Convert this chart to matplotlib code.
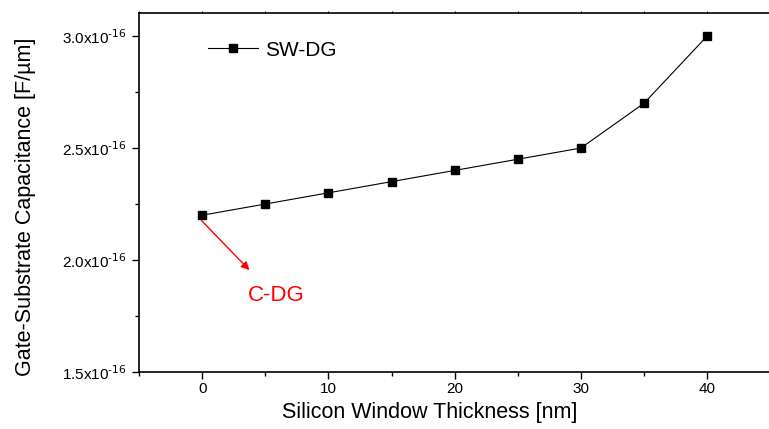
import numpy as np
import matplotlib.pyplot as plt
from matplotlib.ticker import FixedLocator, FuncFormatter

plt.rcParams['font.family'] = ['Liberation Sans', 'DejaVu Sans']

# data
thickness = [0, 5, 10, 15, 20, 25, 30, 35, 40]
capacitance = [2.2e-16, 2.25e-16, 2.3e-16, 2.35e-16, 2.4e-16, 2.45e-16, 2.5e-16, 2.7e-16, 3.0e-16]
x_ticks = [0, 10, 20, 30, 40]
y_ticks = [1.5e-16, 2.0e-16, 2.5e-16, 3.0e-16]

fig = plt.figure(figsize=(7.69, 4.29), dpi=100)
ax = fig.add_axes([139 / 769, 1 - 372 / 429, 1 - 139 / 769, (372 - 13) / 429])

ax.plot(thickness, capacitance, color='black', lw=0.8, marker='s', ms=5.5,
        label='SW-DG')

ax.set_xlim(-5, 44.9)
ax.set_ylim(1.5e-16, 3.103e-16)

ax.xaxis.set_major_locator(FixedLocator(x_ticks))
ax.xaxis.set_minor_locator(FixedLocator([-5, 5, 15, 25, 35]))
ax.yaxis.set_major_locator(FixedLocator(y_ticks))
ax.yaxis.set_minor_locator(FixedLocator([1.75e-16, 2.25e-16, 2.75e-16]))


def sci_fmt(v, pos):
    return r'%.1fx10$^{\text{-16}}$' % (v / 1e-16)


ax.yaxis.set_major_formatter(FuncFormatter(sci_fmt))
ax.tick_params(axis='both', which='major', direction='out', length=5, width=1,
               labelsize=11)
ax.tick_params(axis='x', which='major', pad=2)
ax.tick_params(axis='both', which='minor', direction='out', length=3, width=1)
ax.tick_params(axis='x', which='both', top=True)
for t in ax.xaxis.get_major_ticks() + ax.xaxis.get_minor_ticks():
    t.tick2line.set_marker(2)
    t.tick2line.set_markersize(1.5)
    t.tick2line.set_color('#888888')
    t.tick2line.set_markeredgewidth(0.8)
ax.spines['right'].set_visible(False)
for s in ['left', 'bottom', 'top']:
    ax.spines[s].set_linewidth(1.2)

ax.set_xlabel('Silicon Window Thickness [nm]', fontsize=15.5)
ax.xaxis.set_label_coords(0.462, -0.112, transform=ax.transAxes)
ax.xaxis.label.set_va('center')
ax.set_ylabel('Gate-Substrate Capacitance [F/\u00b5m]', fontsize=15.5)
ax.yaxis.set_label_coords(-0.18, 0.46, transform=ax.transAxes)
ax.yaxis.label.set_va('center')

ax.legend(loc='upper left', bbox_to_anchor=(0.08, 0.975), frameon=False, fontsize=15,
          handlelength=2.4, handletextpad=0.35)

ax.annotate('', xy=(3.9, 1.946e-16), xytext=(-0.2, 2.185e-16),
            arrowprops=dict(arrowstyle='-|>', color='red', lw=1, mutation_scale=12))
ax.text(5.9, 1.84e-16, 'C-DG', color='red', fontsize=16, ha='center', va='center')

fig.savefig('out.png', dpi=100)
